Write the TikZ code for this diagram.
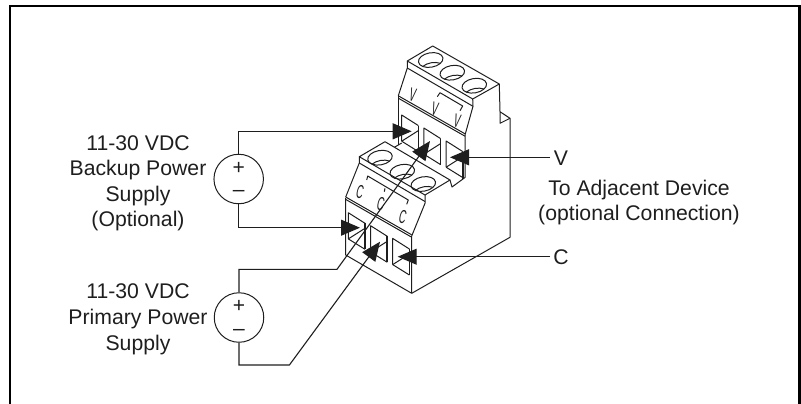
\documentclass[tikz,border=0pt]{standalone}
\usepackage{fontspec}
\setmainfont{Liberation Sans}
\usetikzlibrary{arrows.meta}
\definecolor{ink}{HTML}{1E1E1E}
\tikzset{
  wire/.style={draw=ink,line width=1.1bp,line join=miter},
  body/.style={draw=ink,line width=1.0bp,line join=round},
  wall/.style={draw=ink,line width=1.7bp},
  arrowed/.style={wire,-{Triangle[length=19bp,width=16bp,fill=ink]}},
  source/.style={circle,draw=ink,line width=1.0bp,minimum size=49.5bp,inner sep=0pt},
  lab/.style={anchor=base,inner sep=0pt,text=ink,font=\fontsize{21.2bp}{25bp}\selectfont},
  sign/.style={inner sep=0pt,text=ink,font=\fontsize{21bp}{25bp}\selectfont},
  tiny/.style={inner sep=0pt,text=ink,font=\fontsize{19bp}{19bp}\selectfont}
}
\newcommand{\hole}[1]{%
  \begin{scope}[shift={(#1)},rotate=10]
    \draw[body] (0,0) ellipse [x radius=12.4,y radius=7.2];
    \begin{scope}
      \clip (0,0) ellipse [x radius=12.4,y radius=7.2];
      \draw[body] (0,10) ellipse [x radius=12.4,y radius=7.2];
    \end{scope}
  \end{scope}}
\newcommand{\slotbox}[1]{%
  \begin{scope}[shift={(#1)}]
    \draw[body] (0,26.2) -- (0,0) -- (16.7,10.6);
    \draw[wall] (16.7,10.6) -- (16.7,36.6);
    \draw[body] (0,26.2) -- (16.7,15.6);
    \draw[body] (0,26.2) -- (16.7,36.6);
  \end{scope}}
\newcommand{\tilted}[3]{\node[tiny] (#1) at (#2) {\rotatebox{-14}{\scalebox{.5}[1]{#3}}};}
\begin{document}
\begin{tikzpicture}[x=1bp,y=-1bp]
\useasboundingbox (0,0) rectangle (801,403);
% frame
\draw[draw=black,line width=2.6bp] (10,404) -- (10,6) -- (799.7,6) -- (799.7,404);

% upper connector
\draw[body] (432.7,46) -- (407.3,61) -- (472.7,99) -- (499.3,84) -- cycle;
\draw[body] (407.3,61) -- (407.3,68) -- (398.3,95.8);
\draw[body] (407.3,68) -- (473,106.3);
\draw[body] (472.7,99) -- (473,106.3) -- (465,135);
\draw[body] (398.3,95.8) -- (465,133.8);
\draw[body] (398.3,98.2) -- (465,136.2);
\draw[body] (398.3,96) -- (398.3,145);
\draw[body] (394,147.5) -- (401.7,143);
\draw[body] (499.3,84) -- (500,111.7) -- (510,118.3) -- (500,123.3) -- (500,111.7);
\draw[body] (510,118.3) -- (510,237.3) -- (411.7,293.3);
\draw[body] (465,135) -- (465,177.5) -- (452,187) -- (450,180);
\draw[body] (462.5,170) -- (462.5,179);
\hole{430.7,60}\hole{452.3,72.7}\hole{474.3,85.7}
\slotbox{401.7,115}\slotbox{423.9,128}\slotbox{446.1,141}
\tilted{v1}{412.7,95}{V}\tilted{v2}{435,108.5}{V}\tilted{v3}{457.3,121}{V}
\draw[body] (437.3,96.7) -- (440,92.7) -- (462.7,106) -- (460,110.7);

% lower connector (clears what it hides)
\fill[white] (385,141.7) -- (359.3,156.7) -- (345.7,198.3) -- (345.7,255) -- (411.7,293.3) -- (411.7,236) -- (425,203.3) -- (425,195) -- (450,180) -- cycle;
\draw[body] (385,141.7) -- (359.3,156.7) -- (425,195) -- (450,180) -- cycle;
\draw[body] (359.3,156.7) -- (359.3,163) -- (345.7,197);
\draw[body] (359.3,163) -- (425,201.5);
\draw[body] (425,195) -- (425,203.3) -- (411.7,236);
\draw[body] (345.7,197) -- (411.7,234.8);
\draw[body] (345.7,199.4) -- (411.7,237.2);
\draw[body] (345.7,198) -- (345.7,255) -- (411.7,293.3) -- (411.7,236);
\hole{380,157.7}\hole{402.3,171.7}\hole{423.3,184}
\slotbox{348.3,212.7}\slotbox{370.6,225.7}\slotbox{392.7,238.4}
\tilted{c1}{360,192.3}{C}\tilted{c2}{380.7,204}{C}\tilted{c3}{402.7,216.7}{C}
\draw[body] (366.7,180) -- (367.7,176) -- (408.3,200) -- (406.7,204.3);
\draw[body] (385,188.3) -- (384.3,191.7);

% sources
\node[source] (s1) at (238.7,179) {};
\node[source] (s2) at (239,317.5) {};
\node[sign] (p1) at (238.7,168) {+};
\node[sign] (m1) at (238.7,193.3) {–};
\node[sign] (p2) at (239,306.5) {+};
\node[sign] (m2) at (239,332) {–};

% connection points
\coordinate (t1) at (411.7,131.3);
\coordinate (t2) at (360,227.7);
\coordinate (t3) at (430,141);
\coordinate (t4) at (380,241.7);
\coordinate (t5) at (450,157.3);
\coordinate (t6) at (397.7,256.7);
\coordinate (e5) at (550,157.3);
\coordinate (e6) at (550,256.7);
\coordinate (b1) at (238.7,131.3);
\coordinate (b2) at (238.7,227.7);
\coordinate (b3) at (239,269.3);
\coordinate (b4) at (337,269.3);
\coordinate (b5) at (239,365);
\coordinate (b6) at (289.4,365);

% wires
\draw[arrowed] (s1.north) -- (b1) -- (t1);
\draw[arrowed] (s1.south) -- (b2) -- (t2);
\draw[arrowed] (s2.north) -- (b3) -- (b4) -- (t3);
\draw[arrowed] (s2.south) -- (b5) -- (b6) -- (t4);
\draw[arrowed] (e5) -- (t5);
\draw[arrowed] (e6) -- (t6);

% labels
\node[lab] (l1) at (138,150) {11-30 VDC};
\node[lab] (l2) at (138,175.5) {Backup Power};
\node[lab] (l3) at (138,201) {Supply};
\node[lab] (l4) at (138,226) {(Optional)};
\node[lab] (l5) at (138,298.5) {11-30 VDC};
\node[lab] (l6) at (138,324.5) {Primary Power};
\node[lab] (l7) at (138,350) {Supply};
\node[lab] (v) at (561,165.5) {V};
\node[lab] (ta) at (639,195) {To Adjacent Device};
\node[lab] (tb) at (639,220) {(optional Connection)};
\node[lab] (c) at (561,264) {C};
\end{tikzpicture}
\end{document}
